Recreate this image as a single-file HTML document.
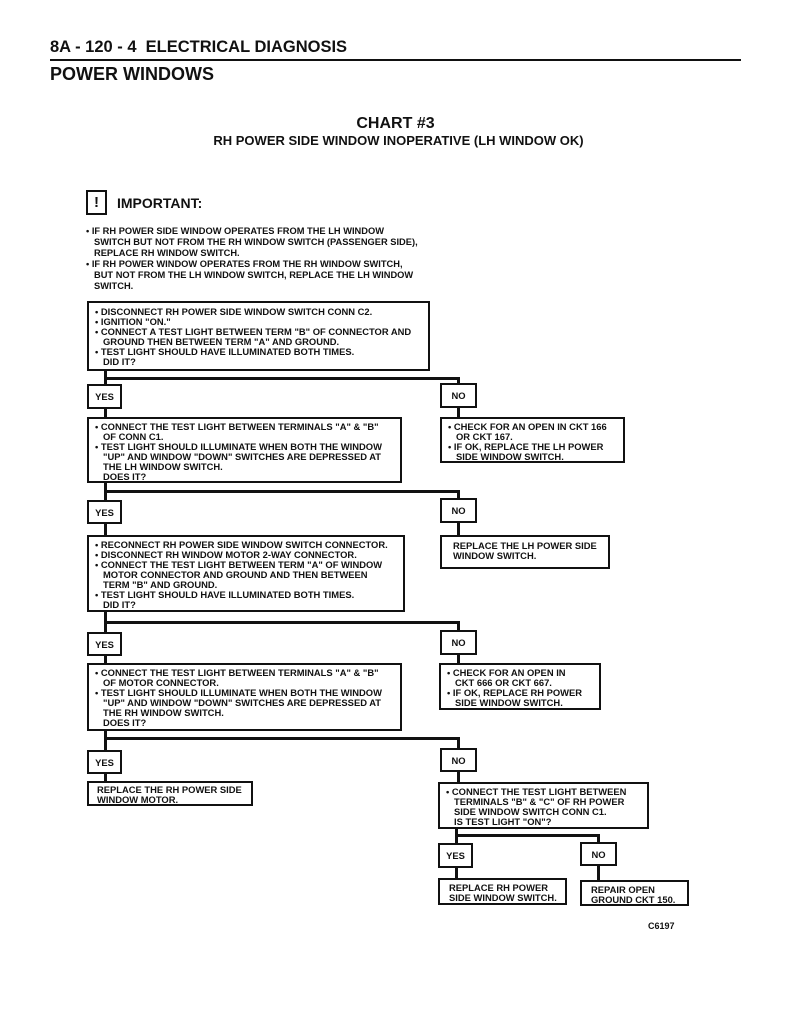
<!DOCTYPE html>
<html><head><meta charset="utf-8"><style>
body{margin:0;background:#fff;}
#p{position:relative;width:791px;height:1024px;overflow:hidden;font-family:"Liberation Sans",Arial,sans-serif;font-weight:bold;color:#111;}
.a{position:absolute;white-space:nowrap;}
.b{position:absolute;border:2px solid #111;box-sizing:border-box;font-size:9.4px;letter-spacing:0px;line-height:10px;padding:3px 0 0 6px;white-space:nowrap;background:#fff;z-index:2;}
.l{position:absolute;background:#111;z-index:1;}
.y{position:absolute;border:2px solid #111;box-sizing:border-box;font-size:9.4px;display:flex;align-items:center;justify-content:center;background:#fff;z-index:2;}
.i{padding-left:8px;}
</style></head><body><div id="p">
<div class="a" style="left:50px;top:38px;font-size:16.5px;">8A - 120 - 4&nbsp; ELECTRICAL DIAGNOSIS</div>
<div class="l" style="left:50px;top:59px;width:691px;height:2px;"></div>
<div class="a" style="left:50px;top:64px;font-size:18px;">POWER WINDOWS</div>
<div class="a" style="left:0;width:791px;text-align:center;top:115px;font-size:16px;">CHART #3</div>
<div class="a" style="left:0;width:791px;text-align:center;top:133px;font-size:13px;"><span style="position:relative;left:3px">RH POWER SIDE WINDOW INOPERATIVE (LH WINDOW OK)</span></div>

<div class="y" style="left:86px;top:190px;width:21px;height:25px;font-size:15px;">!</div>
<div class="a" style="left:117px;top:195px;font-size:14px;">IMPORTANT:</div>
<div class="a" style="left:86px;top:226px;font-size:9.3px;line-height:11px;">• IF RH POWER SIDE WINDOW OPERATES FROM THE LH WINDOW<br><span class="i"></span>SWITCH BUT NOT FROM THE RH WINDOW SWITCH (PASSENGER SIDE),<br><span class="i"></span>REPLACE RH WINDOW SWITCH.<br>• IF RH POWER WINDOW OPERATES FROM THE RH WINDOW SWITCH,<br><span class="i"></span>BUT NOT FROM THE LH WINDOW SWITCH, REPLACE THE LH WINDOW<br><span class="i"></span>SWITCH.</div>

<div class="b" style="left:87px;top:301px;width:343px;height:70px;padding-top:4px;">• DISCONNECT RH POWER SIDE WINDOW SWITCH CONN C2.<br>• IGNITION "ON."<br>• CONNECT A TEST LIGHT BETWEEN TERM "B" OF CONNECTOR AND<br><span class="i"></span>GROUND THEN BETWEEN TERM "A" AND GROUND.<br>• TEST LIGHT SHOULD HAVE ILLUMINATED BOTH TIMES.<br><span class="i"></span>DID IT?</div>
<div class="l" style="left:104px;top:370px;width:3px;height:48px;"></div>
<div class="l" style="left:104px;top:377px;width:356px;height:3px;"></div>
<div class="l" style="left:457px;top:377px;width:3px;height:42px;"></div>
<div class="y" style="left:87px;top:384px;width:35px;height:25px;">YES</div>
<div class="y" style="left:440px;top:383px;width:37px;height:25px;">NO</div>

<div class="b" style="left:87px;top:417px;width:315px;height:66px;">• CONNECT THE TEST LIGHT BETWEEN TERMINALS "A" &amp; "B"<br><span class="i"></span>OF CONN C1.<br>• TEST LIGHT SHOULD ILLUMINATE WHEN BOTH THE WINDOW<br><span class="i"></span>"UP" AND WINDOW "DOWN" SWITCHES ARE DEPRESSED AT<br><span class="i"></span>THE LH WINDOW SWITCH.<br><span class="i"></span>DOES IT?</div>
<div class="b" style="left:440px;top:417px;width:185px;height:46px;">• CHECK FOR AN OPEN IN CKT 166<br><span class="i"></span>OR CKT 167.<br>• IF OK, REPLACE THE LH POWER<br><span class="i"></span>SIDE WINDOW SWITCH.</div>

<div class="l" style="left:104px;top:482px;width:3px;height:54px;"></div>
<div class="l" style="left:104px;top:490px;width:356px;height:3px;"></div>
<div class="l" style="left:457px;top:490px;width:3px;height:46px;"></div>
<div class="y" style="left:87px;top:500px;width:35px;height:24px;">YES</div>
<div class="y" style="left:440px;top:498px;width:37px;height:25px;">NO</div>

<div class="b" style="left:87px;top:535px;width:318px;height:77px;">• RECONNECT RH POWER SIDE WINDOW SWITCH CONNECTOR.<br>• DISCONNECT RH WINDOW MOTOR 2-WAY CONNECTOR.<br>• CONNECT THE TEST LIGHT BETWEEN TERM "A" OF WINDOW<br><span class="i"></span>MOTOR CONNECTOR AND GROUND AND THEN BETWEEN<br><span class="i"></span>TERM "B" AND GROUND.<br>• TEST LIGHT SHOULD HAVE ILLUMINATED BOTH TIMES.<br><span class="i"></span>DID IT?</div>
<div class="b" style="left:440px;top:535px;width:170px;height:34px;padding-left:11px;padding-top:4px;">REPLACE THE LH POWER SIDE<br>WINDOW SWITCH.</div>

<div class="l" style="left:104px;top:611px;width:3px;height:53px;"></div>
<div class="l" style="left:104px;top:621px;width:356px;height:3px;"></div>
<div class="l" style="left:457px;top:621px;width:3px;height:43px;"></div>
<div class="y" style="left:87px;top:632px;width:35px;height:24px;">YES</div>
<div class="y" style="left:440px;top:630px;width:37px;height:25px;">NO</div>

<div class="b" style="left:87px;top:663px;width:315px;height:68px;">• CONNECT THE TEST LIGHT BETWEEN TERMINALS "A" &amp; "B"<br><span class="i"></span>OF MOTOR CONNECTOR.<br>• TEST LIGHT SHOULD ILLUMINATE WHEN BOTH THE WINDOW<br><span class="i"></span>"UP" AND WINDOW "DOWN" SWITCHES ARE DEPRESSED AT<br><span class="i"></span>THE RH WINDOW SWITCH.<br><span class="i"></span>DOES IT?</div>
<div class="b" style="left:439px;top:663px;width:162px;height:47px;">• CHECK FOR AN OPEN IN<br><span class="i"></span>CKT 666 OR CKT 667.<br>• IF OK, REPLACE RH POWER<br><span class="i"></span>SIDE WINDOW SWITCH.</div>

<div class="l" style="left:104px;top:730px;width:3px;height:52px;"></div>
<div class="l" style="left:104px;top:737px;width:356px;height:3px;"></div>
<div class="l" style="left:457px;top:737px;width:3px;height:46px;"></div>
<div class="y" style="left:87px;top:750px;width:35px;height:24px;">YES</div>
<div class="y" style="left:440px;top:748px;width:37px;height:24px;">NO</div>

<div class="b" style="left:87px;top:781px;width:166px;height:25px;padding-top:2px;padding-left:8px;">REPLACE THE RH POWER SIDE<br>WINDOW MOTOR.</div>
<div class="b" style="left:438px;top:782px;width:211px;height:47px;padding-top:3px;">• CONNECT THE TEST LIGHT BETWEEN<br><span class="i"></span>TERMINALS "B" &amp; "C" OF RH POWER<br><span class="i"></span>SIDE WINDOW SWITCH CONN C1.<br><span class="i"></span>IS TEST LIGHT "ON"?</div>

<div class="l" style="left:455px;top:828px;width:3px;height:52px;"></div>
<div class="l" style="left:455px;top:834px;width:145px;height:3px;"></div>
<div class="l" style="left:597px;top:834px;width:3px;height:47px;"></div>
<div class="y" style="left:438px;top:843px;width:35px;height:25px;">YES</div>
<div class="y" style="left:580px;top:842px;width:37px;height:24px;">NO</div>
<div class="b" style="left:438px;top:878px;width:129px;height:27px;padding-left:9px;padding-top:3px;">REPLACE RH POWER<br>SIDE WINDOW SWITCH.</div>
<div class="b" style="left:580px;top:880px;width:109px;height:26px;padding-left:9px;padding-top:3px;">REPAIR OPEN<br>GROUND CKT 150.</div>

<div class="a" style="left:648px;top:921px;font-size:9px;">C6197</div>
</div></body></html>
